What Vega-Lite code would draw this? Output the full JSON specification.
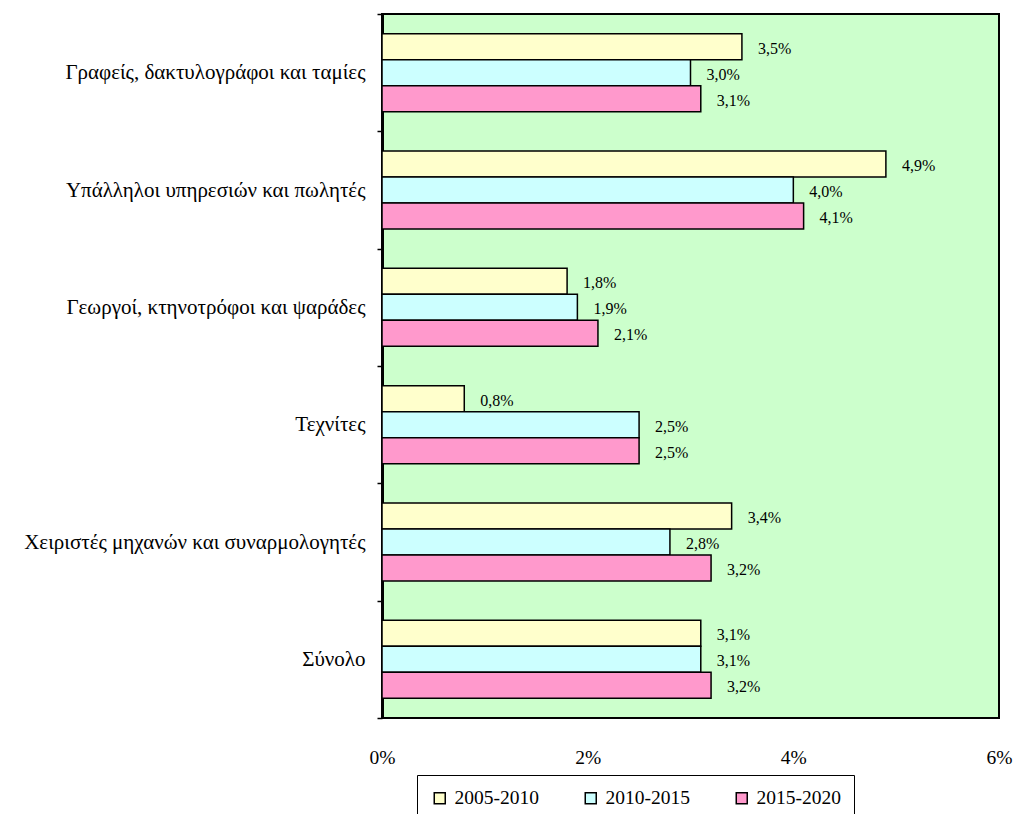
{
  "$schema": "https://vega.github.io/schema/vega-lite/v6.json",
  "width": 617,
  "height": 704,
  "autosize": "none",
  "padding": {"left": 382, "top": 14, "right": 18, "bottom": 96},
  "background": "white",
  "config": {
    "font": "Liberation Serif, DejaVu Serif, serif",
    "locale": {"number": {"decimal": ",", "thousands": ".", "grouping": [3], "currency": ["", " €"]}},
    "view": {"fill": "#CCFFCC", "stroke": "black", "strokeWidth": 2}
  },
  "data": {
    "values": [
      {"category": "Γραφείς, δακτυλογράφοι και ταμίες", "period": "2005-2010", "value": 0.035},
      {"category": "Γραφείς, δακτυλογράφοι και ταμίες", "period": "2010-2015", "value": 0.030},
      {"category": "Γραφείς, δακτυλογράφοι και ταμίες", "period": "2015-2020", "value": 0.031},
      {"category": "Υπάλληλοι υπηρεσιών και πωλητές", "period": "2005-2010", "value": 0.049},
      {"category": "Υπάλληλοι υπηρεσιών και πωλητές", "period": "2010-2015", "value": 0.040},
      {"category": "Υπάλληλοι υπηρεσιών και πωλητές", "period": "2015-2020", "value": 0.041},
      {"category": "Γεωργοί, κτηνοτρόφοι και ψαράδες", "period": "2005-2010", "value": 0.018},
      {"category": "Γεωργοί, κτηνοτρόφοι και ψαράδες", "period": "2010-2015", "value": 0.019},
      {"category": "Γεωργοί, κτηνοτρόφοι και ψαράδες", "period": "2015-2020", "value": 0.021},
      {"category": "Τεχνίτες", "period": "2005-2010", "value": 0.008},
      {"category": "Τεχνίτες", "period": "2010-2015", "value": 0.025},
      {"category": "Τεχνίτες", "period": "2015-2020", "value": 0.025},
      {"category": "Χειριστές μηχανών και συναρμολογητές", "period": "2005-2010", "value": 0.034},
      {"category": "Χειριστές μηχανών και συναρμολογητές", "period": "2010-2015", "value": 0.028},
      {"category": "Χειριστές μηχανών και συναρμολογητές", "period": "2015-2020", "value": 0.032},
      {"category": "Σύνολο", "period": "2005-2010", "value": 0.031},
      {"category": "Σύνολο", "period": "2010-2015", "value": 0.031},
      {"category": "Σύνολο", "period": "2015-2020", "value": 0.032}
    ]
  },
  "encoding": {
    "y": {
      "field": "category",
      "type": "nominal",
      "sort": null,
      "scale": {"paddingInner": 0, "paddingOuter": 0},
      "axis": {
        "title": null,
        "tickBand": "extent",
        "domainWidth": 3,
        "domainColor": "black",
        "tickColor": "black",
        "tickSize": 5,
        "tickWidth": 1.5,
        "labelFontSize": 21,
        "labelPadding": 12,
        "labelColor": "black",
        "labelLimit": 400
      }
    },
    "x": {
      "field": "value",
      "type": "quantitative",
      "scale": {"domain": [0, 0.06], "nice": false},
      "axis": {
        "title": null,
        "format": ".0%",
        "values": [0, 0.02, 0.04, 0.06],
        "grid": false,
        "ticks": false,
        "domain": false,
        "labelPadding": 30,
        "labelFontSize": 19.5,
        "labelColor": "black",
        "labelFlush": false
      }
    },
    "yOffset": {
      "field": "period",
      "type": "nominal",
      "sort": null,
      "scale": {"paddingInner": 0, "paddingOuter": 0.756}
    }
  },
  "layer": [
    {
      "mark": {"type": "bar", "stroke": "black", "strokeWidth": 1.5},
      "encoding": {
        "color": {
          "field": "period",
          "type": "nominal",
          "scale": {"domain": ["2005-2010", "2010-2015", "2015-2020"], "range": ["#FFFFCC", "#CCFFFF", "#FF99CC"]},
          "legend": {
            "orient": "none",
            "legendX": 35,
            "legendY": 761,
            "direction": "horizontal",
            "title": null,
            "strokeColor": "black",
            "padding": 13,
            "symbolType": "square",
            "symbolSize": 121,
            "symbolStrokeColor": "black",
            "symbolStrokeWidth": 1.5,
            "labelFontSize": 19.5,
            "labelOffset": 5,
            "labelColor": "black",
            "columnPadding": 42
          }
        }
      }
    },
    {
      "mark": {"type": "text", "align": "left", "baseline": "middle", "dx": 16, "dy": 2, "fontSize": 16, "color": "black"},
      "encoding": {
        "text": {"field": "value", "type": "quantitative", "format": ".1%"}
      }
    }
  ]
}
